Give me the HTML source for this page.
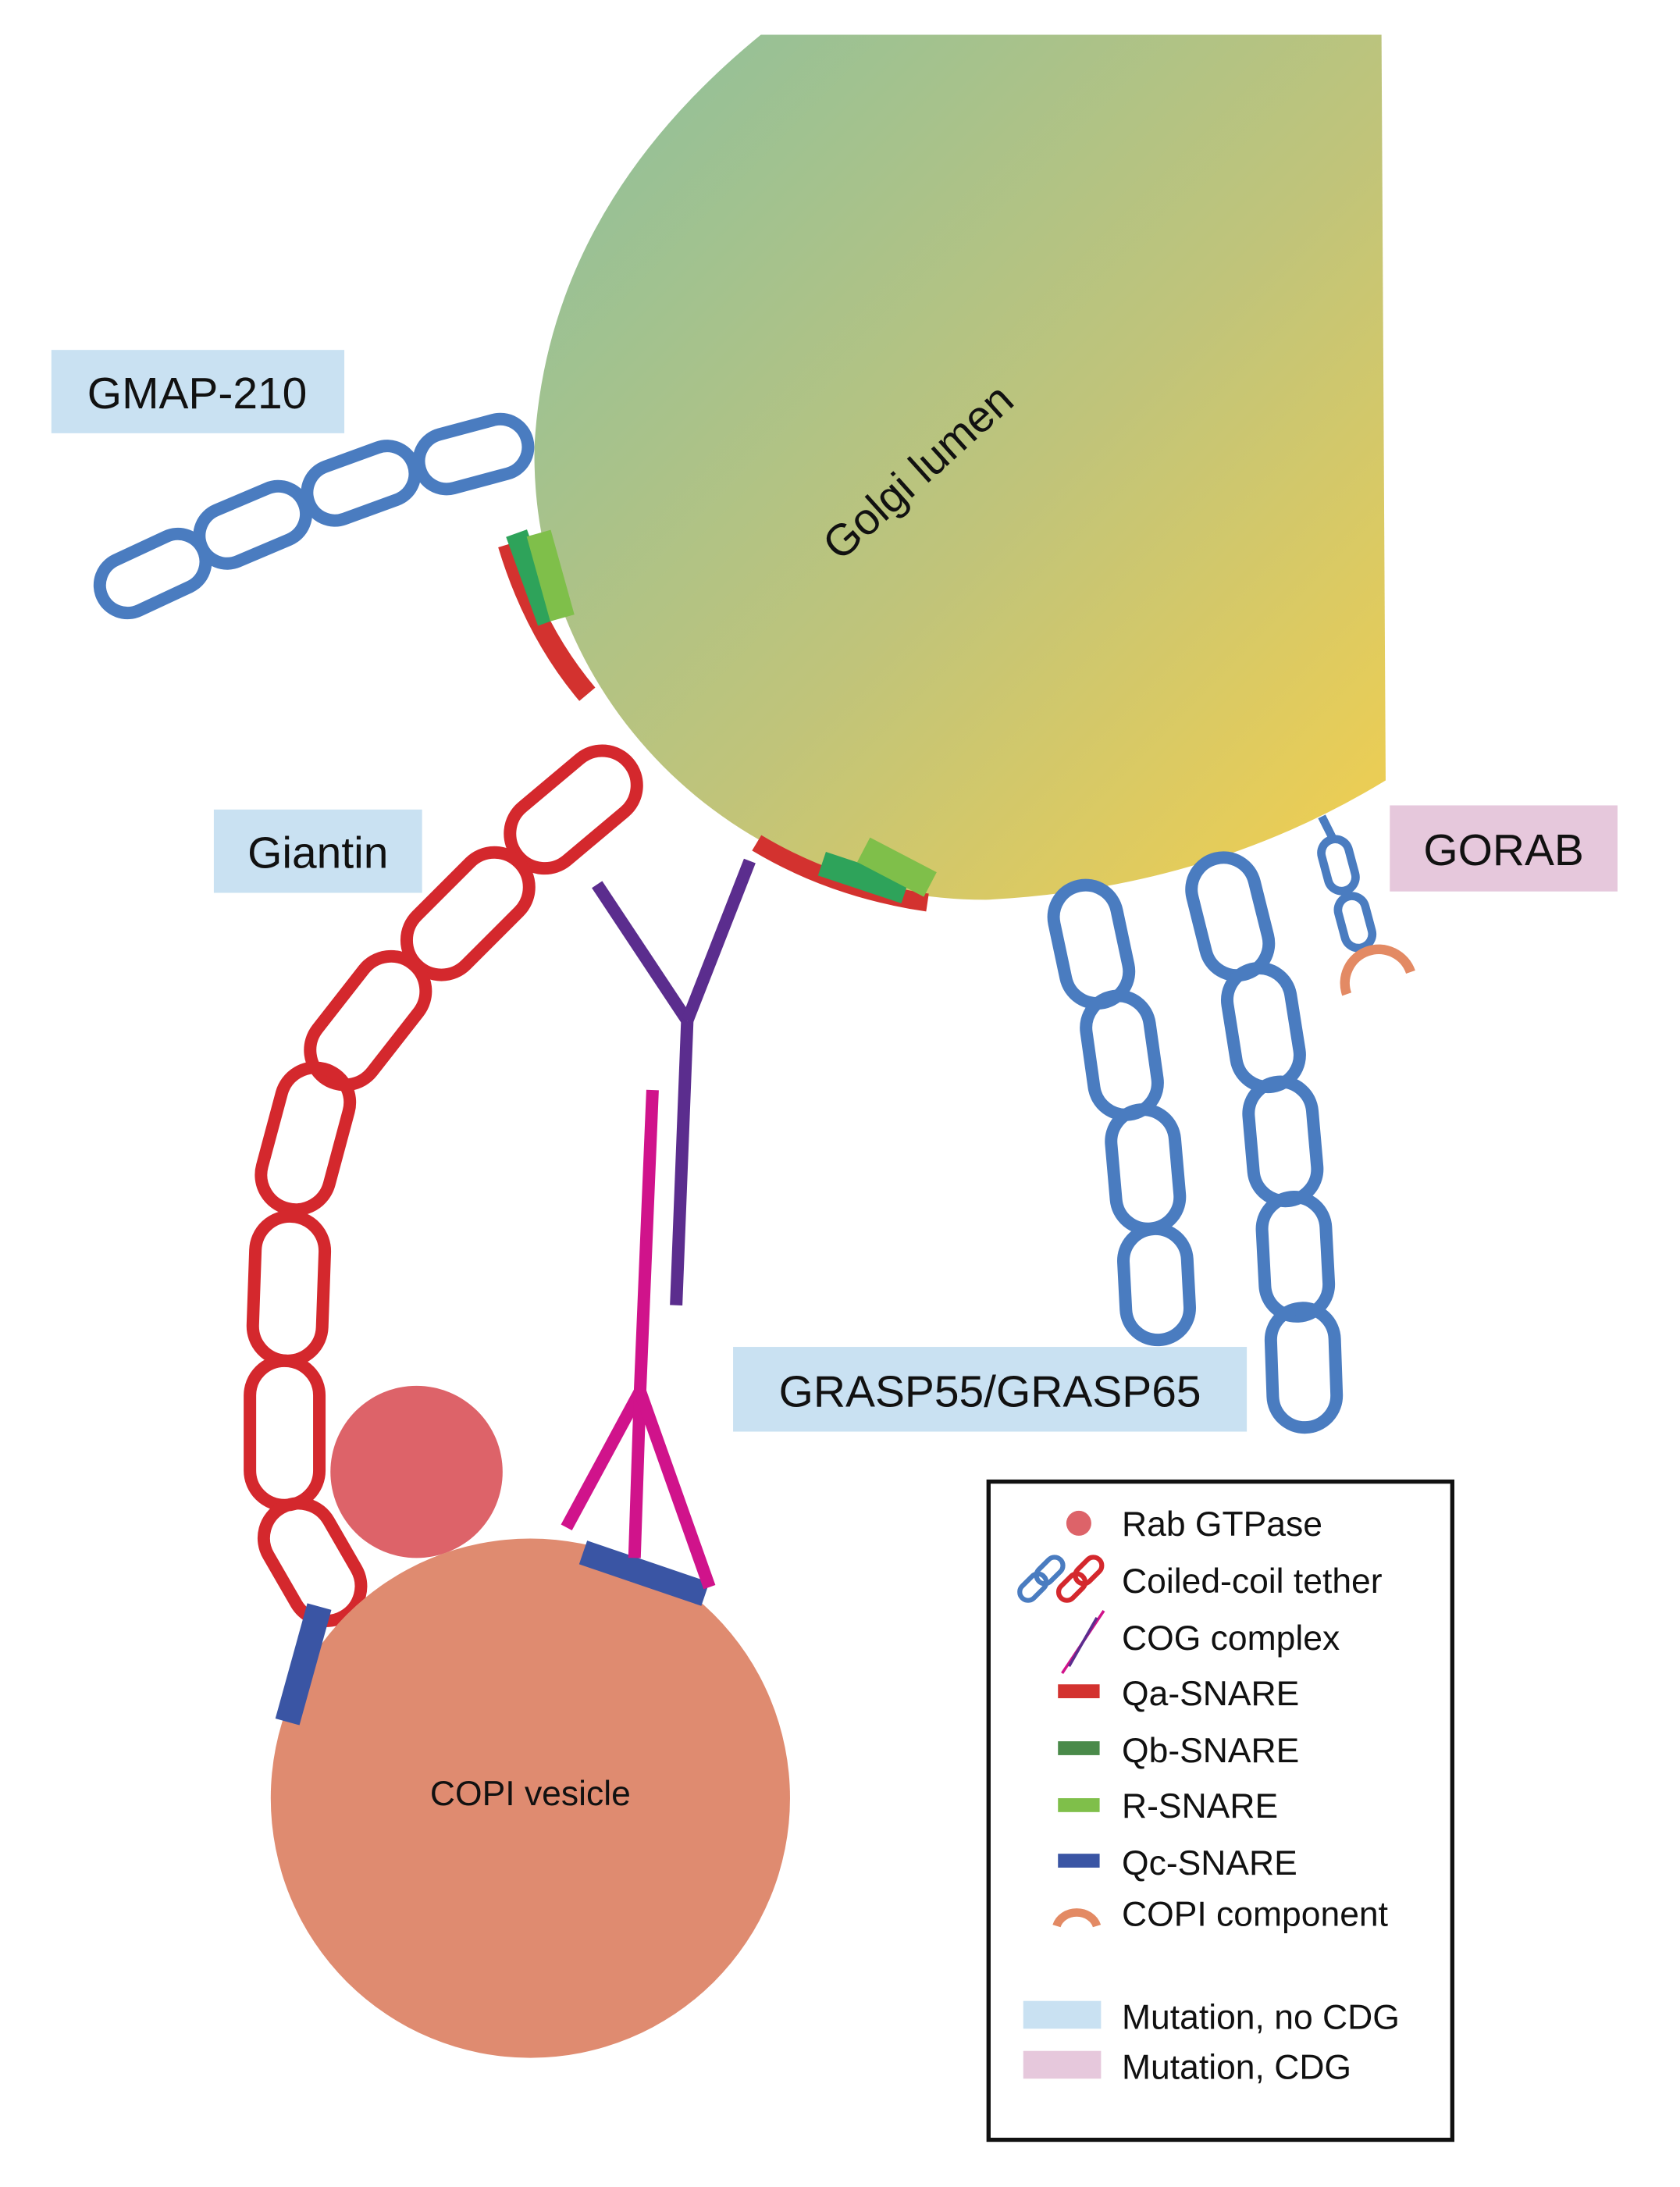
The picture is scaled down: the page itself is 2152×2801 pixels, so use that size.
<!DOCTYPE html>
<html><head><meta charset="utf-8"><style>
html,body{margin:0;padding:0;background:#fff}
svg{display:block}
text{font-family:"Liberation Sans",sans-serif;fill:#111}
</style></head><body>
<svg width="2152" height="2801" viewBox="0 0 1210 1575" preserveAspectRatio="none" xmlns="http://www.w3.org/2000/svg">
<defs>
<linearGradient id="g" x1="0" y1="0" x2="1" y2="1">
<stop offset="0" stop-color="#8cc09e"/>
<stop offset="0.55" stop-color="#c0c47a"/>
<stop offset="1" stop-color="#f3cf4e"/>
</linearGradient>
</defs>
<rect width="1210" height="1575" fill="#fff"/>
<path d="M548,25 L995,25 L998,562 Q870,640 710,648 A325,320 0 0 1 385,320 Q395,150 548,25 Z" fill="url(#g)"/>
<text x="0" y="0" font-size="32" transform="translate(605,405) rotate(-42)">Golgi lumen</text>

<path d="M366,392 Q385,455 423,500" stroke="#d3322f" stroke-width="15" fill="none"/>
<path d="M372,384 L395,448" stroke="#2ea35a" stroke-width="16" fill="none"/>
<path d="M388,384 L405,445" stroke="#7fbf4a" stroke-width="18" fill="none"/>
<path d="M545,607 Q600,640 668,650" stroke="#d3322f" stroke-width="13" fill="none"/>
<path d="M592,622 L652,642" stroke="#2ea35a" stroke-width="18" fill="none"/>
<path d="M622,612 L670,637" stroke="#7fbf4a" stroke-width="20" fill="none"/>

<g fill="none" stroke="#4a7cc0" stroke-width="9">
<rect x="-40" y="-20" width="80" height="40" rx="20" transform="translate(110,413) rotate(-25)"/>
<rect x="-40" y="-20" width="80" height="40" rx="20" transform="translate(182,378) rotate(-23)"/>
<rect x="-40" y="-20" width="80" height="40" rx="20" transform="translate(260,348) rotate(-20)"/>
<rect x="-40" y="-20" width="80" height="40" rx="20" transform="translate(341,327) rotate(-15)"/>
</g>
<g fill="none" stroke="#4a7cc0" stroke-width="9">
<rect x="-23" y="-43" width="46" height="86" rx="23" transform="translate(786,680) rotate(-12)"/>
<rect x="-23" y="-43" width="46" height="86" rx="23" transform="translate(808,760) rotate(-8)"/>
<rect x="-23" y="-43" width="46" height="86" rx="23" transform="translate(825,842) rotate(-5)"/>
<rect x="-23" y="-40" width="46" height="80" rx="23" transform="translate(833,925) rotate(-3)"/>
<rect x="-23" y="-43" width="46" height="86" rx="23" transform="translate(886,660) rotate(-14)"/>
<rect x="-23" y="-43" width="46" height="86" rx="23" transform="translate(910,740) rotate(-9)"/>
<rect x="-23" y="-43" width="46" height="86" rx="23" transform="translate(924,822) rotate(-5)"/>
<rect x="-23" y="-43" width="46" height="86" rx="23" transform="translate(933,905) rotate(-3)"/>
<rect x="-23" y="-43" width="46" height="86" rx="23" transform="translate(939,985) rotate(-2)"/>
</g>
<g fill="none" stroke="#4a7cc0" stroke-width="6">
<line x1="952" y1="588" x2="960" y2="604"/>
<rect x="-10" y="-19" width="20" height="38" rx="10" transform="translate(964,623) rotate(-15)"/>
<rect x="-10" y="-19" width="20" height="38" rx="10" transform="translate(976,664) rotate(-15)"/>
</g>
<path d="M970,716 A22,22 0 0 1 1016,700" stroke="#e38a64" stroke-width="7" fill="none"/>

<g fill="none" stroke="#d4282d" stroke-width="9">
<rect x="-52" y="-25" width="104" height="50" rx="25" transform="translate(413,583) rotate(-40)"/>
<rect x="-52" y="-25" width="104" height="50" rx="25" transform="translate(337,658) rotate(-45)"/>
<rect x="-52" y="-25" width="104" height="50" rx="25" transform="translate(265,735) rotate(-52)"/>
<rect x="-52" y="-25" width="104" height="50" rx="25" transform="translate(220,820) rotate(-75)"/>
<rect x="-52" y="-25" width="104" height="50" rx="25" transform="translate(208,928) rotate(-88)"/>
<rect x="-52" y="-25" width="104" height="50" rx="25" transform="translate(205,1032) rotate(-90)"/>
<rect x="-45" y="-25" width="90" height="50" rx="25" transform="translate(225,1125) rotate(60)"/>
</g>

<circle cx="300" cy="1060" r="62" fill="#dd6369"/>
<circle cx="382" cy="1295" r="187" fill="#df8b70"/>
<text x="382" y="1300" font-size="25" text-anchor="middle">COPI vesicle</text>
<line x1="420" y1="1118" x2="508" y2="1148" stroke="#3a55a4" stroke-width="18"/>
<line x1="230" y1="1157" x2="207" y2="1240" stroke="#3a55a4" stroke-width="18"/>

<g stroke="#5b2d8e" stroke-width="9" fill="none">
<line x1="430" y1="637" x2="495" y2="735"/>
<line x1="540" y1="620" x2="495" y2="735"/>
<line x1="495" y1="735" x2="487" y2="940"/>
</g>
<g stroke="#d0138b" stroke-width="9" fill="none">
<line x1="470" y1="785" x2="461" y2="1002"/>
<line x1="461" y1="1002" x2="408" y2="1100"/>
<line x1="461" y1="1002" x2="457" y2="1122"/>
<line x1="461" y1="1002" x2="511" y2="1143"/>
</g>

<rect x="37" y="252" width="211" height="60" fill="#c9e1f2"/>
<text x="142" y="294" font-size="32" text-anchor="middle">GMAP-210</text>
<rect x="154" y="583" width="150" height="60" fill="#c9e1f2"/>
<text x="229" y="625" font-size="32" text-anchor="middle">Giantin</text>
<rect x="528" y="970" width="370" height="61" fill="#c9e1f2"/>
<text x="713" y="1013" font-size="32" text-anchor="middle">GRASP55/GRASP65</text>
<rect x="1001" y="580" width="164" height="62" fill="#e6c8dc"/>
<text x="1083" y="623" font-size="32" text-anchor="middle">GORAB</text>

<rect x="712" y="1067" width="334" height="474" fill="#fff" stroke="#111" stroke-width="3"/>
<g font-size="25">
<circle cx="777" cy="1097" r="9" fill="#dd6369"/>
<text x="808" y="1106">Rab GTPase</text>
<g fill="none" stroke-width="3.5">
<rect x="-6" y="-11" width="12" height="22" rx="6" stroke="#4a7cc0" transform="translate(744,1143) rotate(45)"/>
<rect x="-6" y="-11" width="12" height="22" rx="6" stroke="#4a7cc0" transform="translate(756,1131) rotate(45)"/>
<rect x="-6" y="-11" width="12" height="22" rx="6" stroke="#d4282d" transform="translate(772,1143) rotate(45)"/>
<rect x="-6" y="-11" width="12" height="22" rx="6" stroke="#d4282d" transform="translate(784,1131) rotate(45)"/>
</g>
<text x="808" y="1147">Coiled-coil tether</text>
<line x1="765" y1="1205" x2="795" y2="1160" stroke="#d0138b" stroke-width="2"/>
<line x1="770" y1="1200" x2="790" y2="1165" stroke="#5b2d8e" stroke-width="2"/>
<text x="808" y="1188">COG complex</text>
<rect x="762" y="1213" width="30" height="10" fill="#d3322f"/>
<text x="808" y="1228">Qa-SNARE</text>
<rect x="762" y="1254" width="30" height="10" fill="#4a8a4a"/>
<text x="808" y="1269">Qb-SNARE</text>
<rect x="762" y="1295" width="30" height="10" fill="#7fbf4a"/>
<text x="808" y="1309">R-SNARE</text>
<rect x="762" y="1335" width="30" height="10" fill="#3a55a4"/>
<text x="808" y="1350">Qc-SNARE</text>
<path d="M761,1387 A15,13 0 0 1 790,1387" stroke="#e38a64" stroke-width="6" fill="none"/>
<text x="808" y="1387">COPI component</text>
<rect x="737" y="1441" width="56" height="20" fill="#c9e1f2"/>
<text x="808" y="1461">Mutation, no CDG</text>
<rect x="737" y="1477" width="56" height="20" fill="#e6c8dc"/>
<text x="808" y="1497">Mutation, CDG</text>
</g>
</svg>
</body></html>
